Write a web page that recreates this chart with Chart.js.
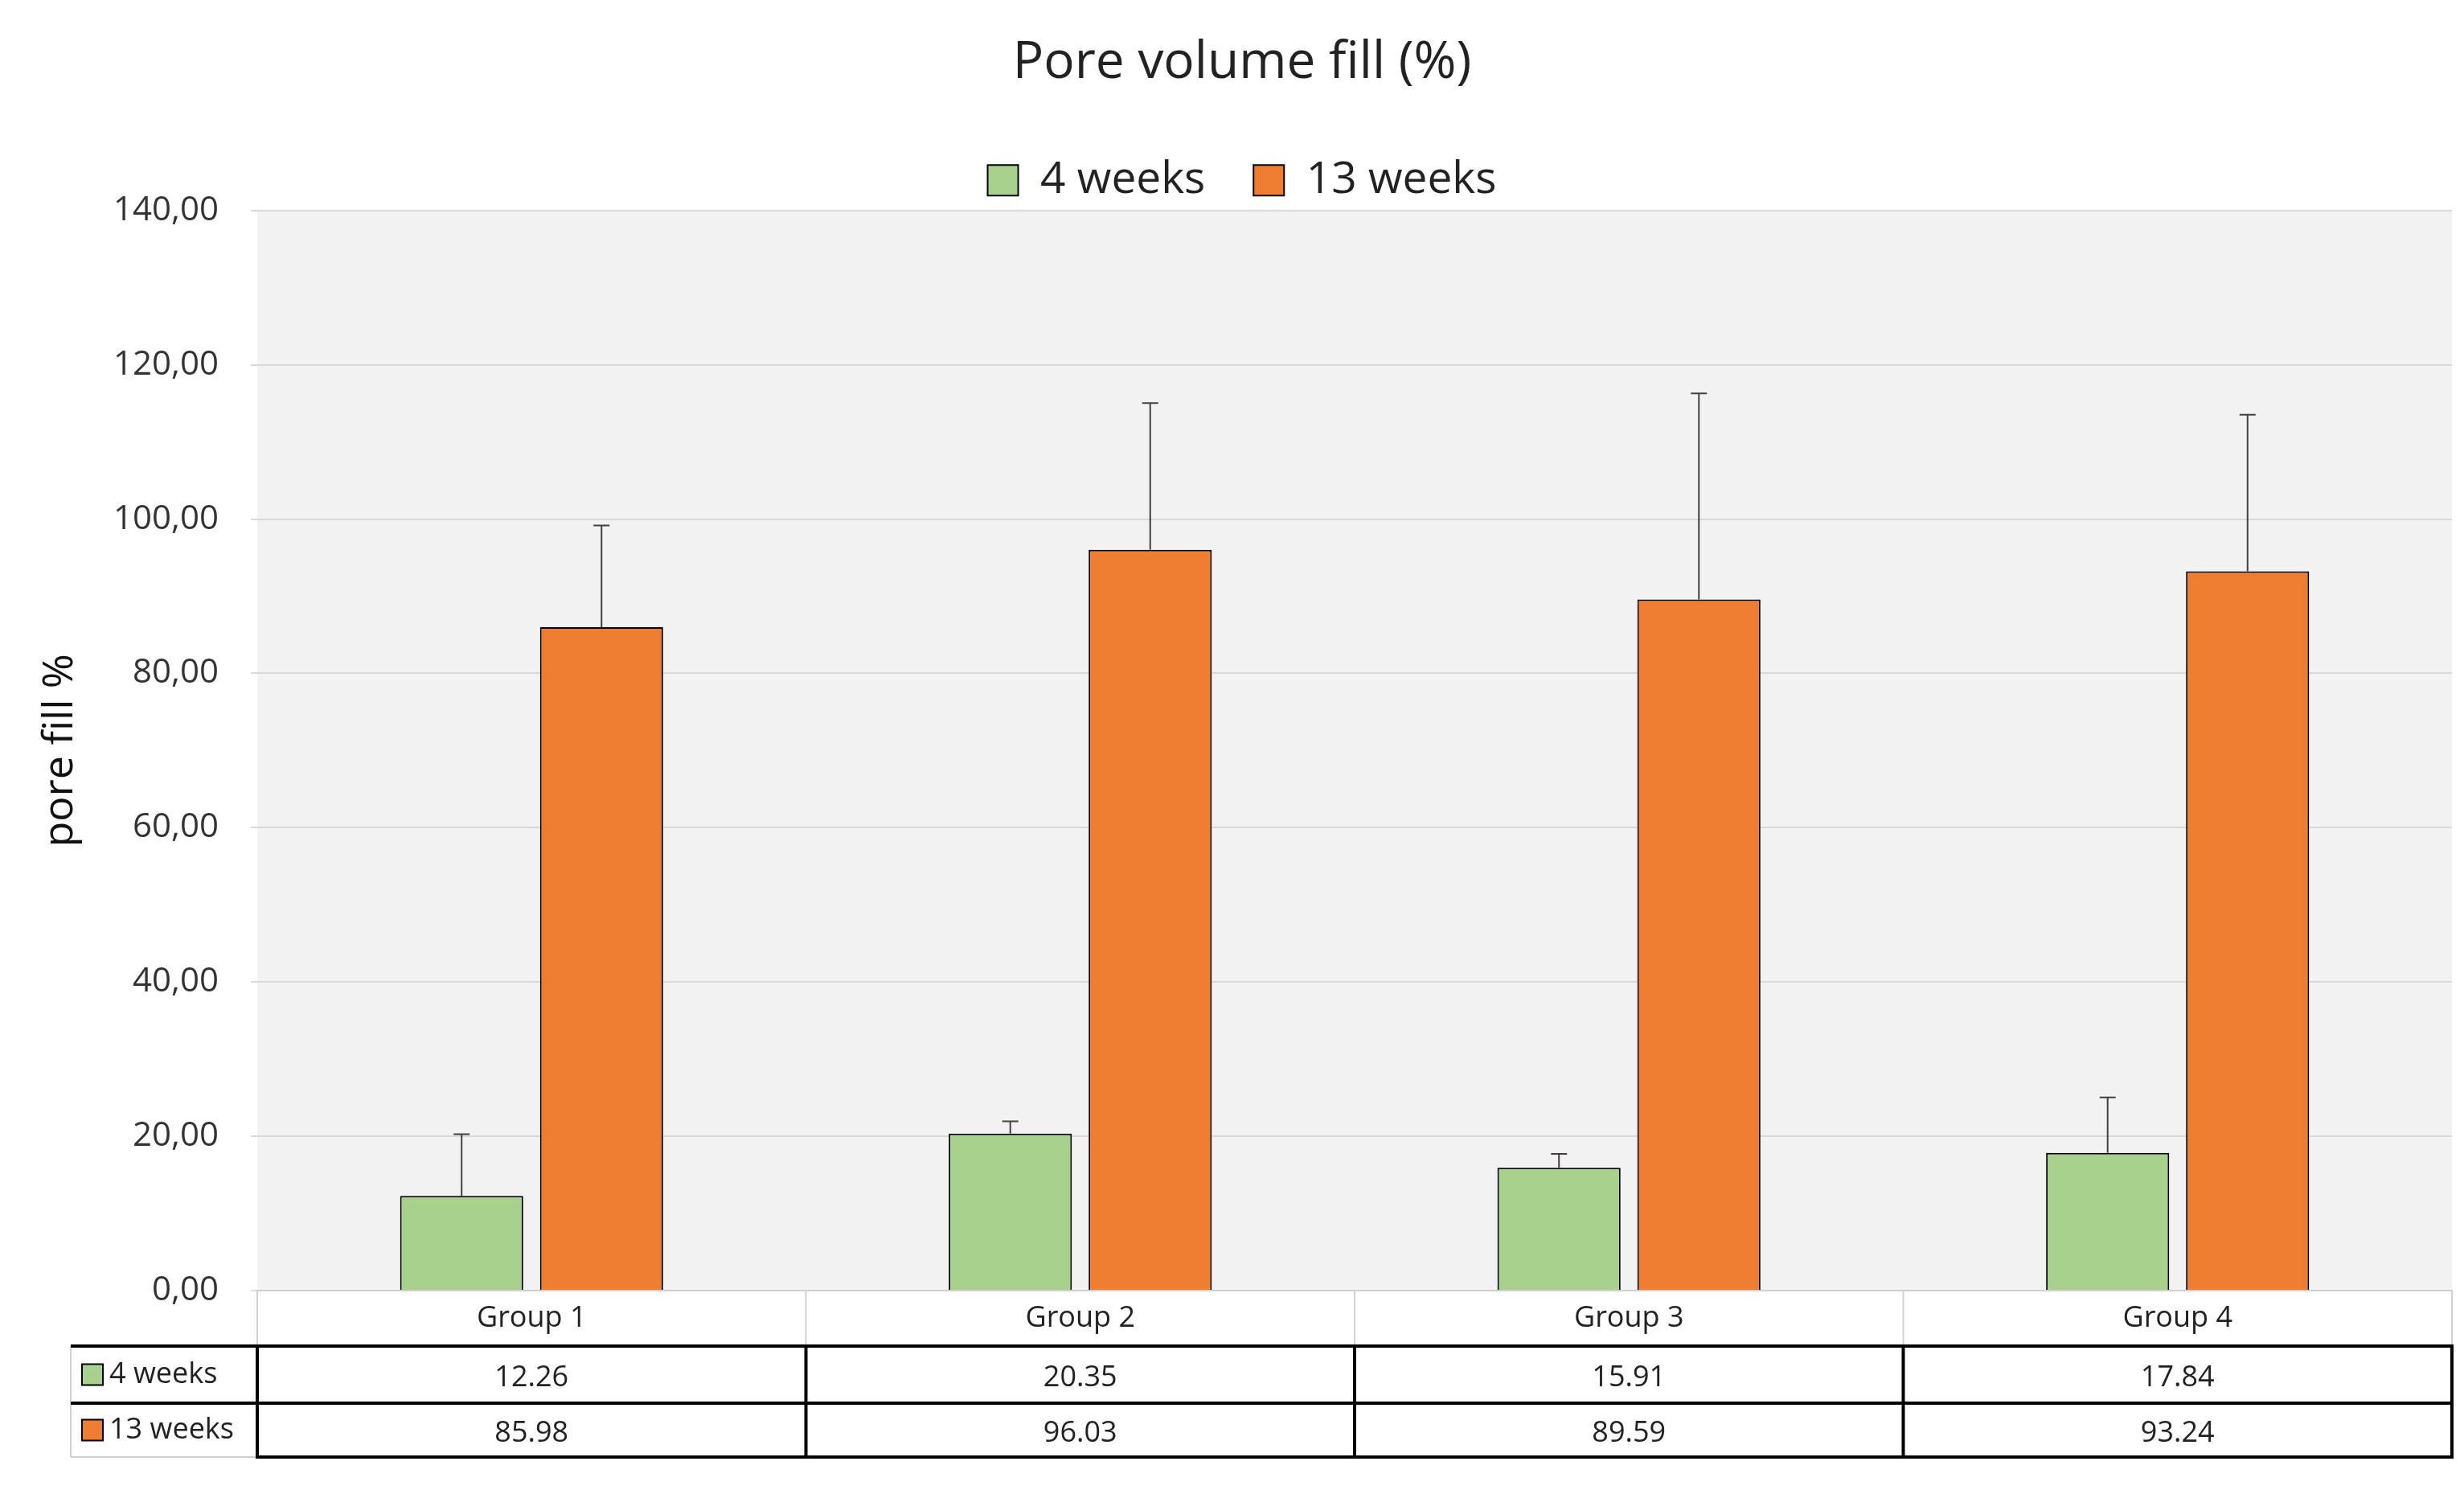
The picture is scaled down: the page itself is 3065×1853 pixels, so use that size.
<!DOCTYPE html>
<html><head><meta charset="utf-8">
<script src="https://cdn.jsdelivr.net/npm/chart.js@4"></script>
<style>body{margin:0;background:#fff}</style>
</head><body>
<canvas id="c" width="3065" height="1853"></canvas>
<script>
const groups = ['Group 1', 'Group 2', 'Group 3', 'Group 4'];
const weeks4 = [12.26, 20.35, 15.91, 17.84];
const weeks13 = [85.98, 96.03, 89.59, 93.24];
const err4 = [8.0, 1.6, 1.8, 7.2];
const err13 = [13.2, 19.0, 26.7, 20.3];
const yTicks = [0, 20, 40, 60, 80, 100, 120, 140];

const green = '#a9d18e';
const orange = '#ed7d31';
const fontFam = '"Open Sans", "Noto Sans", sans-serif';

// grey plot background
const plotBg = {
    id: 'plotBg',
    beforeDraw(chart){
        const a = chart.chartArea, ctx = chart.ctx;
        ctx.save();
        ctx.fillStyle = '#f2f2f2';
        ctx.fillRect(a.left, a.top, a.right - a.left, a.bottom - a.top);
        ctx.restore();
    }
};

// upper error bars only
const errorBars = {
    id: 'errorBars',
    afterDatasetsDraw(chart){
        const ctx = chart.ctx, y = chart.scales.y;
        const errs = [err4, err13];
        ctx.save();
        ctx.strokeStyle = '#404040';
        ctx.lineWidth = 2;
        chart.data.datasets.forEach((ds, i) => {
            chart.getDatasetMeta(i).data.forEach((bar, j) => {
                const top = y.getPixelForValue(ds.data[j] + errs[i][j]);
                ctx.beginPath();
                ctx.moveTo(bar.x, bar.y);
                ctx.lineTo(bar.x, top);
                ctx.moveTo(bar.x - 10, top);
                ctx.lineTo(bar.x + 10, top);
                ctx.stroke();
            });
        });
        ctx.restore();
    }
};

// data table under the plot
const dataTable = {
    id: 'dataTable',
    afterDraw(chart){
        const ctx = chart.ctx, a = chart.chartArea;
        const colW = (a.right - a.left) / groups.length;
        const r0 = a.bottom, r1 = r0 + 69, r2 = r1 + 71, r3 = r2 + 67;
        const headL = 88;
        ctx.save();
        ctx.font = '36px ' + fontFam;
        ctx.textAlign = 'center';
        ctx.textBaseline = 'middle';
        // category row
        ctx.strokeStyle = '#d0d0d0';
        ctx.lineWidth = 2;
        ctx.strokeRect(a.left, r0, a.right - a.left, r1 - r0);
        for(let j = 1; j < groups.length; j++){
            ctx.beginPath();
            ctx.moveTo(a.left + colW*j, r0); ctx.lineTo(a.left + colW*j, r1); ctx.stroke();
        }
        ctx.fillStyle = '#222';
        groups.forEach((g, j) => ctx.fillText(g, a.left + colW*(j+0.5), (r0+r1)/2));
        // header column
        ctx.beginPath();
        ctx.moveTo(headL, r1); ctx.lineTo(headL, r3);
        ctx.moveTo(headL, r3); ctx.lineTo(a.left, r3);
        ctx.stroke();
        // value rows
        ctx.strokeStyle = '#000';
        ctx.lineWidth = 4;
        ctx.strokeRect(a.left, r1, a.right - a.left, r3 - r1);
        ctx.beginPath();
        ctx.moveTo(headL, r1); ctx.lineTo(a.right, r1);
        ctx.moveTo(headL, r2); ctx.lineTo(a.right, r2);
        for(let j = 1; j < groups.length; j++){
            ctx.moveTo(a.left + colW*j, r1); ctx.lineTo(a.left + colW*j, r3);
        }
        ctx.stroke();
        const rows = [[weeks4, green, '4 weeks', r1, r2], [weeks13, orange, '13 weeks', r2, r3]];
        rows.forEach(([vals, col, lab, ta, tb]) => {
            const cy = (ta + tb) / 2;
            ctx.textAlign = 'center';
            vals.forEach((v, j) => ctx.fillText(v.toFixed(2), a.left + colW*(j+0.5), cy + 4));
            ctx.fillStyle = col;
            ctx.fillRect(102, cy - 13, 26, 26);
            ctx.lineWidth = 2;
            ctx.strokeRect(102, cy - 13, 26, 26);
            ctx.fillStyle = '#222';
            ctx.textAlign = 'left';
            ctx.fillText(lab, 136, cy);
        });
        ctx.restore();
    }
};

new Chart(document.getElementById('c'), {
    type: 'bar',
    data: {
        labels: groups,
        datasets: [
            {label: '4 weeks', data: weeks4, backgroundColor: green, borderColor: '#000', borderWidth: 2,
             categoryPercentage: 0.51, barPercentage: 0.88},
            {label: '13 weeks', data: weeks13, backgroundColor: orange, borderColor: '#000', borderWidth: 2,
             categoryPercentage: 0.51, barPercentage: 0.88}
        ]
    },
    options: {
        responsive: false,
        devicePixelRatio: 1,
        animation: false,
        layout: {padding: {top: 20, right: 15, bottom: 248, left: 40}},
        plugins: {
            title: {display: true, text: 'Pore volume fill (%)', color: '#222',
                    font: {size: 64, family: fontFam, weight: 'normal'}, padding: {top: 20, bottom: 20}},
            legend: {
                labels: {color: '#222', font: {size: 55, family: fontFam}, boxWidth: 38, boxHeight: 38,
                         padding: 60, useBorderRadius: false}
            },
            tooltip: {enabled: false}
        },
        scales: {
            x: {display: false},
            y: {
                min: 0, max: 140,
                afterBuildTicks: s => { s.ticks = yTicks.map(v => ({value: v})); },
                afterFit: s => { s.width = 280; },
                grid: {color: '#d9d9d9', lineWidth: 2},
                border: {display: false},
                ticks: {color: '#333', font: {size: 42, family: fontFam}, padding: 40,
                        callback: v => v.toFixed(2).replace('.', ',')},
                title: {display: true, text: 'pore fill %', color: '#111',
                        font: {size: 52, family: fontFam}}
            }
        }
    },
    plugins: [plotBg, errorBars, dataTable]
});
</script>
</body></html>
